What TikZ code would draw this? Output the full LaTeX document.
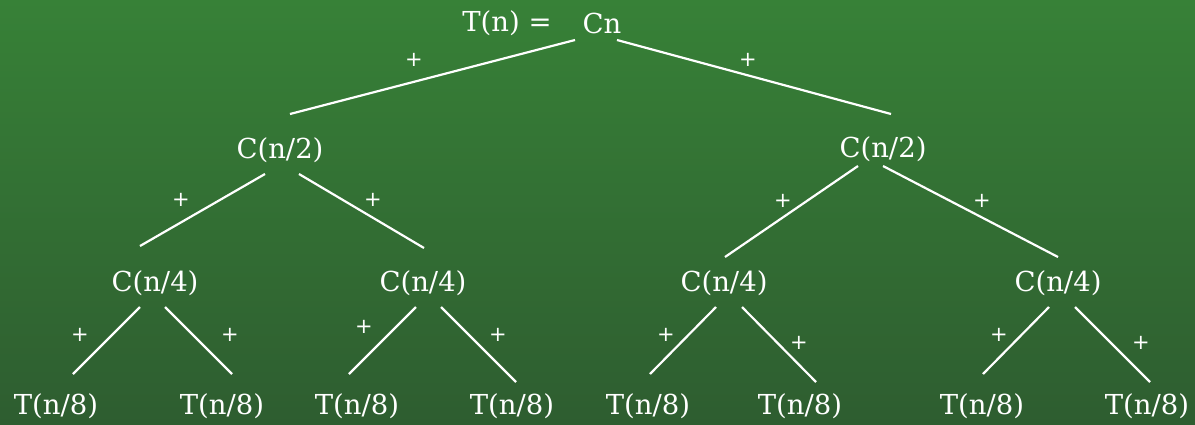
\documentclass[tikz,border=0pt]{standalone}
\usepackage{fontspec}
\setmainfont{DejaVu Serif}
\newfontfamily\plusfont{DejaVu Sans}
\usetikzlibrary{calc}
\definecolor{bgtop}{RGB}{55,129,55}
\definecolor{bgbot}{RGB}{46,93,48}
\begin{document}
\begin{tikzpicture}[x=1pt,y=-1pt,
  lbl/.style={text=white,inner sep=0pt,font=\fontsize{27.5}{32}\selectfont},
  pl/.style={text=white,inner sep=0pt,font=\plusfont\fontsize{21}{24}\selectfont},
  edge/.style={draw=white,line width=2.2pt}]
\shade[top color=bgtop,bottom color=bgbot] (0,0) rectangle (1195,424);
\useasboundingbox (0,0) rectangle (1195,424);
% nodes
\node[lbl] (tn) at (507,23) {T(n) =};
\node[lbl] (cn) at (602,23) {Cn};
\node[lbl] (a) at (280,150) {C(n/2)};
\node[lbl] (b) at (883,149) {C(n/2)};
\node[lbl] (c1) at (155,283) {C(n/4)};
\node[lbl] (c2) at (423,283) {C(n/4)};
\node[lbl] (c3) at (724,283) {C(n/4)};
\node[lbl] (c4) at (1058,283) {C(n/4)};
\node[lbl] (d1) at (56,406) {T(n/8)};
\node[lbl] (d2) at (222,406) {T(n/8)};
\node[lbl] (d3) at (357,406) {T(n/8)};
\node[lbl] (d4) at (512,406) {T(n/8)};
\node[lbl] (d5) at (648,406) {T(n/8)};
\node[lbl] (d6) at (800,406) {T(n/8)};
\node[lbl] (d7) at (982,406) {T(n/8)};
\node[lbl] (d8) at (1147,406) {T(n/8)};
% connectors
\draw[edge] ($(cn)+(-27,17)$) -- ($(a)+(10,-36)$);
\draw[edge] ($(cn)+(15,17)$) -- ($(b)+(8,-35)$);
\draw[edge] ($(a)+(-15,24)$) -- ($(c1)+(-15,-37)$);
\draw[edge] ($(a)+(19,24)$) -- ($(c2)+(1,-35)$);
\draw[edge] ($(b)+(-25,17)$) -- ($(c3)+(1,-26)$);
\draw[edge] ($(b)+(0,17)$) -- ($(c4)+(0,-26)$);
\draw[edge] ($(c1)+(-15,24)$) -- ($(d1)+(17,-32)$);
\draw[edge] ($(c1)+(10,24)$) -- ($(d2)+(10,-32)$);
\draw[edge] ($(c2)+(-7,24)$) -- ($(d3)+(-8,-32)$);
\draw[edge] ($(c2)+(18,24)$) -- ($(d4)+(4,-24)$);
\draw[edge] ($(c3)+(-8,24)$) -- ($(d5)+(2,-32)$);
\draw[edge] ($(c3)+(18,24)$) -- ($(d6)+(16,-24)$);
\draw[edge] ($(c4)+(-9,24)$) -- ($(d7)+(1,-32)$);
\draw[edge] ($(c4)+(17,24)$) -- ($(d8)+(3,-24)$);
% plus signs
\node[pl] (p1) at (414,60) {+};
\node[pl] (p2) at (748,60) {+};
\node[pl] (p3) at (181,200) {+};
\node[pl] (p4) at (373,200) {+};
\node[pl] (p5) at (783,201) {+};
\node[pl] (p6) at (982,201) {+};
\node[pl] (p7) at (80,335) {+};
\node[pl] (p8) at (230,335) {+};
\node[pl] (p9) at (364,327) {+};
\node[pl] (p10) at (498,335) {+};
\node[pl] (p11) at (666,335) {+};
\node[pl] (p12) at (799,343) {+};
\node[pl] (p13) at (999,335) {+};
\node[pl] (p14) at (1141,343) {+};
\end{tikzpicture}
\end{document}
